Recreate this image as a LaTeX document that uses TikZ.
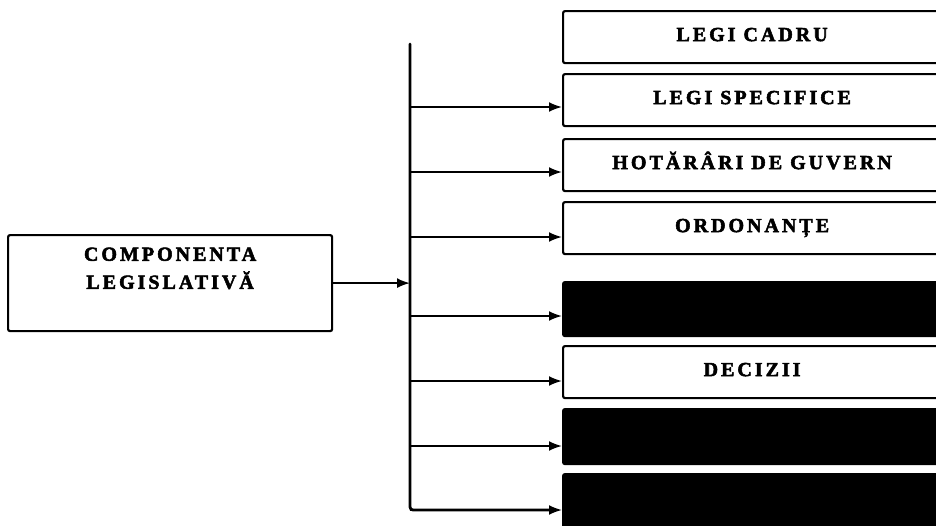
\documentclass[tikz,border=0pt]{standalone}
\usepackage{fontspec}
\setmainfont{Liberation Serif}
\newfontfamily\spacedbold{Liberation Serif}[LetterSpace=15, BoldFeatures={FakeBold=2.6}]
\usetikzlibrary{arrows.meta}

\begin{document}
\begin{tikzpicture}[x=1pt, y=-1pt,
  labelfont/.style={font=\spacedbold\fontsize{20}{28}\selectfont\bfseries},
  leftbox/.style={draw, line width=2.2pt, rounded corners=2pt, anchor=north west,
    minimum width=324pt, minimum height=96pt, inner sep=0pt},
  itembox/.style={draw, line width=2.2pt, rounded corners=2pt, anchor=north west,
    minimum width=378pt, inner xsep=0pt, inner ysep=0pt,
    text height=30pt, text depth=22pt, labelfont},
  darkbox/.style={itembox, fill=black, text depth=#1},
  busline/.style={line width=2.8pt, line cap=round},
  conn/.style={line width=2pt, -{Latex[length=13pt, width=10pt]}},
]
\useasboundingbox (0,0) rectangle (936,525);

% source block
\node[leftbox,
  label={[labelfont, anchor=north, yshift=-10pt, align=center]north:COMPONENTA\\LEGISLATIVĂ}]
  (comp) at (7,234) {};

% target blocks
\node[itembox] (b1) at (562,10)  {LEGI CADRU};
\node[itembox] (b2) at (562,73)  {LEGI SPECIFICE};
\node[itembox] (b3) at (562,138) {HOTĂRÂRI DE GUVERN};
\node[itembox] (b4) at (562,201) {ORDONANȚE};
\node[darkbox=24pt] (b5) at (562,281) {};
\node[itembox] (b6) at (562,345) {DECIZII};
\node[darkbox=25pt] (b7) at (562,408) {};
\node[darkbox=40pt] (b8) at (562,473) {};

% arrow entry points on the blocks
\coordinate (in2) at ([yshift=-34pt]b2.north west);
\coordinate (in3) at ([yshift=-34pt]b3.north west);
\coordinate (in4) at ([yshift=-36pt]b4.north west);
\coordinate (in5) at ([yshift=-35pt]b5.north west);
\coordinate (in6) at ([yshift=-36pt]b6.north west);
\coordinate (in7) at ([yshift=-38pt]b7.north west);
\coordinate (in8) at ([yshift=-37pt]b8.north west);

% distribution bus
\coordinate (bus) at (410,44);
\draw[busline, rounded corners=3pt] (bus) -- (bus |- in8) -- ([xshift=-10pt]in8);
\draw[conn] (bus |- in8) -- (in8);

% main feed into the bus
\draw[conn] (comp.east) -- (bus |- comp.east);

% branches
\draw[conn] (bus |- in2) -- (in2);
\draw[conn] (bus |- in3) -- (in3);
\draw[conn] (bus |- in4) -- (in4);
\draw[conn] (bus |- in5) -- (in5);
\draw[conn] (bus |- in6) -- (in6);
\draw[conn] (bus |- in7) -- (in7);
\end{tikzpicture}
\end{document}
